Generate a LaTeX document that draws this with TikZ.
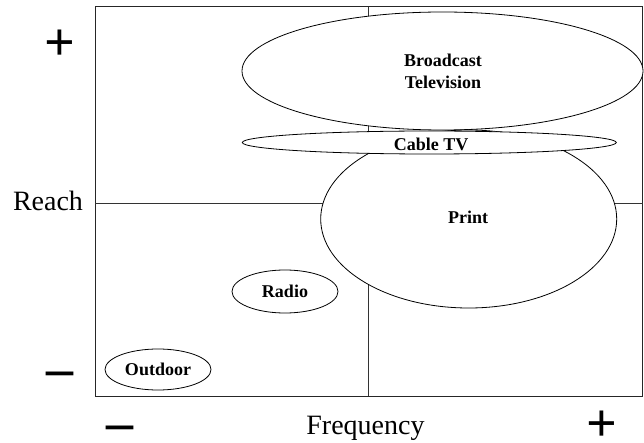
\documentclass[tikz,border=0pt]{standalone}
\usepackage{fontspec}
\setmainfont{Liberation Serif}

\begin{document}
\begin{tikzpicture}[x=1pt, y=-1pt,
    medium/.style={draw, fill=white, line width=0.8pt},
    mediatext/.style={font=\bfseries\fontsize{18}{22}\selectfont, align=center},
    axistext/.style={font=\fontsize{28}{30}\selectfont, anchor=base},
    sign/.style={font=\bfseries\fontsize{54}{54}\selectfont, anchor=base, inner sep=0pt}]
    \pgfmathsetmacro{\midx}{368.5}
    \pgfmathsetmacro{\midy}{203.5}

    \useasboundingbox (0,0) rectangle (644,443);

    % quadrants
    \draw[line width=1pt, black!85] (95,7) rectangle (642.5,396);
    \draw[line width=1.3pt, black!80] (\midx,7) -- (\midx,396);
    \draw[line width=1.3pt, black!80] (95,\midy) -- (642.5,\midy);

    % media, back to front
    \draw[medium] (442.5,71) ellipse [x radius=200.5, y radius=59];
    \draw[medium] (468.7,219) ellipse [x radius=148, y radius=89];
    \draw[medium] (429.3,142.5) ellipse [x radius=187, y radius=11.5];
    \draw[medium] (285,291.5) ellipse [x radius=53, y radius=21.5];
    \draw[medium] (158,369.5) ellipse [x radius=53, y radius=20.5];

    \node[mediatext] (broadcast) at (443,71) {Broadcast\\Television};
    \node[mediatext] (cable) at (431,144) {Cable TV};
    \node[mediatext] (print) at (468,217) {Print};
    \node[mediatext] (radio) at (285,291) {Radio};
    \node[mediatext] (outdoor) at (158,369) {Outdoor};

    % axes
    \node[axistext] (reach) at (48,210.7) {Reach};
    \node[axistext] (freq) at (365.5,434.3) {Frequency};

    \node[sign] (reachhi) at (60,61) {+};
    \node[sign] (reachlo) at (60,386) {–};
    \node[sign] (freqlo) at (120,440) {–};
    \node[sign] (freqhi) at (602,441) {+};
\end{tikzpicture}
\end{document}
